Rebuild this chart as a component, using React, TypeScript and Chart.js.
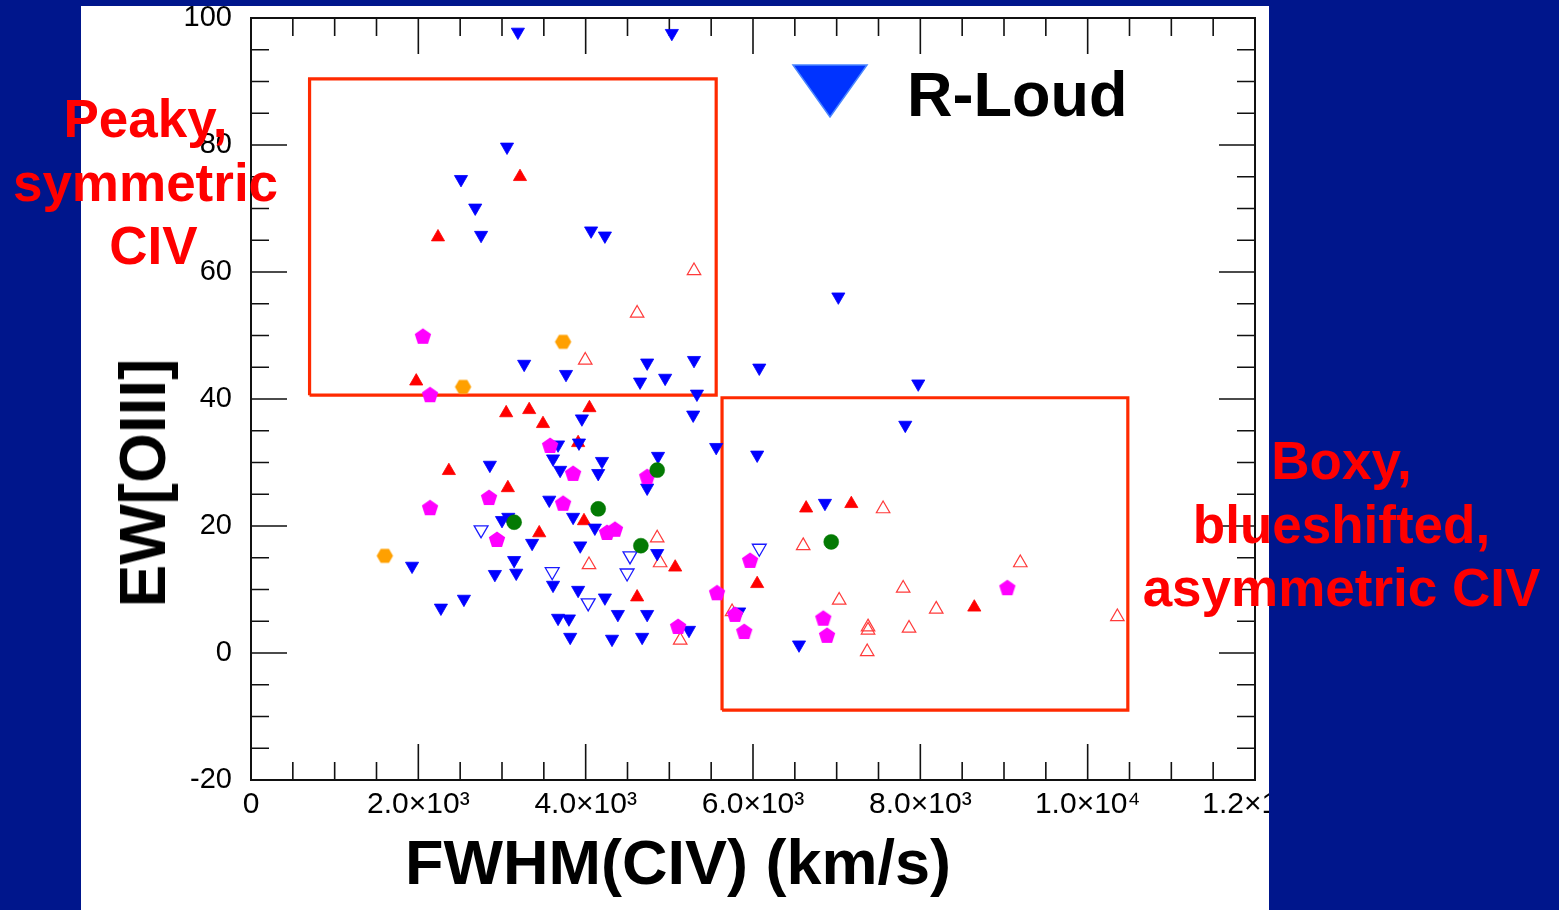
import React, { useEffect, useRef } from "react";
import { Chart, registerables } from "chart.js";

Chart.register(...registerables);

// ---------- axis definitions ----------
const xTickValues = [0, 2000, 4000, 6000, 8000, 10000, 12000];
const xTickLabels = ["0", "2.0×10³", "4.0×10³", "6.0×10³", "8.0×10³", "1.0×10⁴", "1.2×10⁴"];
const yTickValues = [-20, 0, 20, 40, 60, 80, 100];
const xMinorStep = 500;
const yMinorStep = 5;

// ---------- data (FWHM(CIV) km/s, EW[OIII]) ----------
const blueFilled: number[][] = [
  [3190, 97.8], [5030, 97.6], [3060, 79.7], [2510, 74.6], [2680, 70.1], [2750, 65.8],
  [4065, 66.5], [4230, 65.7], [7020, 56.1], [3265, 45.5], [3765, 43.9], [4735, 45.7],
  [4650, 42.7], [4950, 43.3], [5295, 46.1], [6075, 44.9], [7975, 42.4], [7820, 35.9],
  [5330, 40.8], [5285, 37.5], [5560, 32.4], [6050, 31.2], [6860, 23.6], [5835, 6.5],
  [6550, 1.3], [5235, 3.6], [2855, 29.6], [3000, 20.9], [3075, 21.4], [3360, 17.3],
  [3145, 14.6], [3170, 12.6], [2915, 12.4], [1925, 13.7], [2545, 8.5], [2270, 7.1],
  [3955, 36.9], [3670, 32.8], [3920, 33.1], [3610, 30.6], [3695, 28.8], [4195, 30.2],
  [4150, 28.3], [4865, 31.0], [4735, 26.0], [3565, 24.1], [3850, 21.4], [4110, 19.7],
  [3935, 16.9], [4855, 15.7], [3610, 10.7], [3910, 9.9], [4230, 8.7], [4385, 6.1],
  [4735, 6.1], [3670, 5.5], [3800, 5.4], [3815, 2.5], [4315, 2.2], [4675, 2.5],
];
const blueOpen: number[][] = [
  [2750, 19.4], [3600, 12.8], [4030, 7.9], [4495, 12.6], [4530, 15.3], [6075, 16.5],
];
const redFilled: number[][] = [
  [3215, 75.0], [2235, 65.5], [1975, 42.8], [3050, 37.8], [3325, 38.3], [4045, 38.6],
  [3490, 36.1], [3910, 33.1], [2365, 28.7], [3070, 26.0], [3980, 20.8], [3445, 18.9],
  [4615, 8.8], [5070, 13.5], [6635, 22.8], [7175, 23.5], [6050, 10.9], [8645, 7.2],
];
const redOpen: number[][] = [
  [4040, 13.9], [4855, 18.1], [4890, 14.2], [5130, 2.0], [5295, 60.2], [4615, 53.5],
  [3995, 46.1], [7555, 22.7], [6600, 16.9], [7795, 10.2], [7030, 8.3], [8190, 6.9],
  [7375, 4.1], [7375, 3.6], [7865, 3.9], [7365, 0.2], [5750, 6.5], [9195, 14.2],
  [10355, 5.7],
];
const magentaPent: number[][] = [
  [2055, 49.8], [2140, 40.6], [2845, 24.4], [2140, 22.8], [2940, 17.8], [3575, 32.6],
  [3850, 28.2], [4735, 27.7], [3730, 23.5], [4255, 18.9], [4350, 19.4], [5570, 9.4],
  [5105, 4.1], [5965, 14.5], [5785, 6.0], [5895, 3.3], [6840, 5.4], [6885, 2.7],
  [9040, 10.2],
];
const orangeHex: number[][] = [
  [1600, 15.3], [2535, 41.9], [3730, 49.0],
];
const greenCircle: number[][] = [
  [3145, 20.6], [4855, 28.8], [4150, 22.7], [4660, 16.9], [6935, 17.5],
];

// boxes: [xMin, xMax, yMin, yMax]
const peakyBox = [700, 5560, 40.6, 90.4];
const boxyBox = [5630, 10480, -9.0, 40.2];

const legendLabel = "R-Loud";

const toPts = (arr: number[][]) => arr.map(([x, y]) => ({ x, y }));
const boxPts = (b: number[]) => [
  { x: b[0], y: b[2] }, { x: b[0], y: b[3] }, { x: b[1], y: b[3] },
  { x: b[1], y: b[2] }, { x: b[0], y: b[2] },
];

function makePolygon(sides: number, r: number, color: string, rot: number) {
  const size = Math.ceil(r * 2) + 2;
  const c = document.createElement("canvas");
  c.width = size;
  c.height = size;
  const g = c.getContext("2d")!;
  g.fillStyle = color;
  g.beginPath();
  for (let i = 0; i < sides; i++) {
    const a = rot + (i * 2 * Math.PI) / sides;
    const px = size / 2 + r * Math.sin(a);
    const py = size / 2 - r * Math.cos(a);
    if (i === 0) g.moveTo(px, py);
    else g.lineTo(px, py);
  }
  g.closePath();
  g.fill();
  return c;
}

const BLUE = "#0000ff";
const RED = "#ff0000";

const framePlugin = {
  id: "frameTicks",
  beforeDatasetsDraw(chart: any) {
    const { ctx, chartArea: a, scales } = chart;
    const x = scales.x;
    const y = scales.y;
    ctx.save();
    ctx.strokeStyle = "#111";
    ctx.lineWidth = 1.6;
    ctx.beginPath();
    for (let v = x.min; v <= x.max + 1e-6; v += xMinorStep) {
      const px = x.getPixelForValue(v);
      const major = xTickValues.some((t) => Math.abs(t - v) < 1e-6);
      const len = major ? 36 : 18;
      ctx.moveTo(px, a.bottom);
      ctx.lineTo(px, a.bottom - len);
      ctx.moveTo(px, a.top);
      ctx.lineTo(px, a.top + len);
    }
    for (let v = y.min; v <= y.max + 1e-6; v += yMinorStep) {
      const py = y.getPixelForValue(v);
      const major = yTickValues.some((t) => Math.abs(t - v) < 1e-6);
      const len = major ? 36 : 18;
      ctx.moveTo(a.left, py);
      ctx.lineTo(a.left + len, py);
      ctx.moveTo(a.right, py);
      ctx.lineTo(a.right - len, py);
    }
    ctx.stroke();
    ctx.lineWidth = 2;
    ctx.strokeRect(a.left, a.top, a.right - a.left, a.bottom - a.top);
    ctx.restore();
  },
  afterDraw(chart: any) {
    const { ctx, chartArea: a } = chart;
    // legend: down-triangle + label, placed inside plot area
    const tx = a.left + 579;
    const ty = a.top + 47;
    ctx.save();
    ctx.beginPath();
    ctx.moveTo(tx - 37, ty);
    ctx.lineTo(tx + 37, ty);
    ctx.lineTo(tx, ty + 52);
    ctx.closePath();
    ctx.fillStyle = "#0033ff";
    ctx.fill();
    ctx.strokeStyle = "#4a86ff";
    ctx.lineWidth = 1.5;
    ctx.stroke();
    ctx.fillStyle = "#000";
    ctx.font = "bold 63px 'Liberation Sans', Arial, sans-serif";
    ctx.textBaseline = "alphabetic";
    ctx.textAlign = "left";
    ctx.fillText(legendLabel, a.left + 656, a.top + 98);
    ctx.restore();
  },
};

function ChartCanvas() {
  const ref = useRef<HTMLCanvasElement | null>(null);
  useEffect(() => {
    if (!ref.current) return;
    const pent = makePolygon(5, 8.6, "#ff00ff", 0);
    const hex = makePolygon(6, 8.2, "#ffa000", Math.PI / 6);
    const family = "'Liberation Sans', Arial, sans-serif";
    const chart = new Chart(ref.current, {
      type: "scatter",
      data: {
        datasets: [
          {
            data: toPts(greenCircle),
            pointStyle: "circle",
            pointRadius: 7.5,
            backgroundColor: "#037a03",
            borderColor: "#037a03",
            borderWidth: 0.5,
          },
          {
            data: toPts(orangeHex),
            pointStyle: hex as any,
            pointRadius: 8,
          },
          {
            data: toPts(magentaPent),
            pointStyle: pent as any,
            pointRadius: 8,
          },
          {
            label: legendLabel,
            data: toPts(blueFilled),
            pointStyle: "triangle",
            rotation: 180,
            pointRadius: 7.6,
            backgroundColor: BLUE,
            borderColor: BLUE,
            borderWidth: 0.8,
          },
          {
            data: toPts(blueOpen),
            pointStyle: "triangle",
            rotation: 180,
            pointRadius: 8,
            backgroundColor: "rgba(0,0,0,0)",
            borderColor: "#1a1aff",
            borderWidth: 1.3,
          },
          {
            data: toPts(redFilled),
            pointStyle: "triangle",
            pointRadius: 7.6,
            backgroundColor: RED,
            borderColor: RED,
            borderWidth: 0.8,
          },
          {
            data: toPts(redOpen),
            pointStyle: "triangle",
            pointRadius: 7.8,
            backgroundColor: "rgba(0,0,0,0)",
            borderColor: "#ff3a3a",
            borderWidth: 1.2,
          },
          {
            type: "line" as any,
            data: boxPts(peakyBox),
            showLine: true,
            pointRadius: 0,
            borderColor: "#ff2a00",
            borderWidth: 3.2,
            fill: false,
            tension: 0,
          } as any,
          {
            type: "line" as any,
            data: boxPts(boxyBox),
            showLine: true,
            pointRadius: 0,
            borderColor: "#ff2a00",
            borderWidth: 3.2,
            fill: false,
            tension: 0,
          } as any,
        ],
      },
      options: {
        responsive: false,
        animation: false,
        events: [],
        layout: { padding: { top: 12, right: 14, left: 0, bottom: 0 } },
        plugins: {
          legend: { display: false },
          tooltip: { enabled: false },
          title: { display: false },
        },
        scales: {
          x: {
            type: "linear",
            min: 0,
            max: 12000,
            grid: { display: false, drawTicks: false },
            border: { display: false },
            afterBuildTicks: (s: any) => {
              s.ticks = xTickValues.map((v) => ({ value: v }));
            },
            afterFit: (s: any) => {
              s.height = 130;
              s.paddingLeft = 0;
              s.paddingRight = 0;
            },
            ticks: {
              autoSkip: false,
              maxRotation: 0,
              minRotation: 0,
              padding: 7,
              color: "#000",
              font: { family, size: 30 },
              callback: (v: any) => {
                const i = xTickValues.indexOf(Number(v));
                return i >= 0 ? xTickLabels[i] : "";
              },
            },
          },
          y: {
            type: "linear",
            min: -20,
            max: 100,
            grid: { display: false, drawTicks: false },
            border: { display: false },
            afterBuildTicks: (s: any) => {
              s.ticks = yTickValues.map((v) => ({ value: v }));
            },
            afterFit: (s: any) => {
              s.width = 170;
              s.paddingTop = 0;
              s.paddingBottom = 0;
            },
            ticks: {
              autoSkip: false,
              padding: 19,
              color: "#000",
              font: { family, size: 29 },
              callback: (v: any) => String(v),
            },
          },
        },
      },
      plugins: [framePlugin],
    } as any);
    return () => chart.destroy();
  }, []);
  return (
    <canvas
      ref={ref}
      width={1188}
      height={904}
      style={{ position: "absolute", left: 81, top: 6, width: 1188, height: 904, background: "#fff" }}
    />
  );
}

const bold = "'Liberation Sans', Arial, Helvetica, sans-serif";

export default function App() {
  return (
    <div
      style={{
        position: "fixed",
        left: 0,
        top: 0,
        width: 1559,
        height: 910,
        background: "#00168c",
        overflow: "hidden",
        fontFamily: bold,
      }}
    >
      <ChartCanvas />
      {/* y-axis title */}
      <div
        style={{
          position: "absolute",
          left: 143,
          top: 483,
          transform: "translate(-50%, -50%) rotate(-90deg)",
          fontWeight: "bold",
          fontSize: 64,
          lineHeight: "64px",
          whiteSpace: "nowrap",
          color: "#000",
        }}
      >
        EW[OIII]
      </div>
      {/* x-axis title */}
      <div
        style={{
          position: "absolute",
          left: 678,
          top: 862,
          transform: "translate(-50%, -50%)",
          fontWeight: "bold",
          fontSize: 63,
          lineHeight: "63px",
          whiteSpace: "nowrap",
          color: "#000",
        }}
      >
        FWHM(CIV) (km/s)
      </div>
      {/* annotations */}
      <div
        style={{
          position: "absolute",
          left: 0,
          top: 87,
          width: 291,
          textAlign: "center",
          fontWeight: "bold",
          fontSize: 53,
          lineHeight: "63.5px",
          color: "#ff0000",
          whiteSpace: "nowrap",
        }}
      >
        Peaky,
        <br />
        symmetric
        <br />
        <span style={{ position: "relative", left: 8 }}>CIV</span>
      </div>
      <div
        style={{
          position: "absolute",
          left: 1141,
          top: 429,
          width: 401,
          textAlign: "center",
          fontWeight: "bold",
          fontSize: 53,
          lineHeight: "63.5px",
          color: "#ff0000",
          whiteSpace: "nowrap",
        }}
      >
        Boxy,
        <br />
        blueshifted,
        <br />
        asymmetric CIV
      </div>
    </div>
  );
}
